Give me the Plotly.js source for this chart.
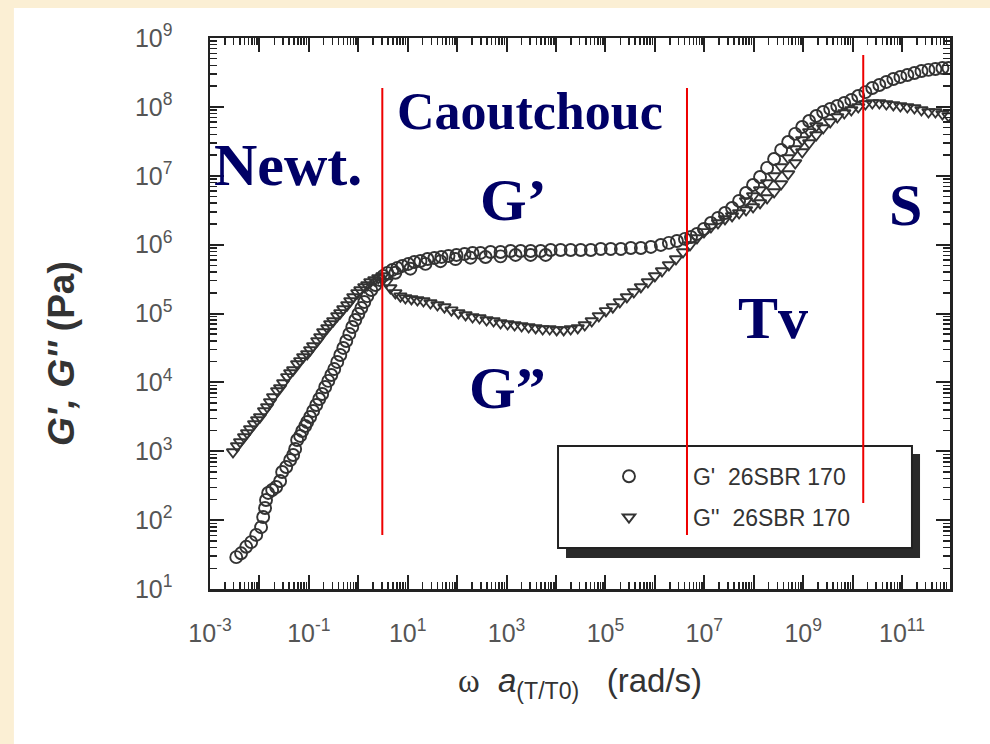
<!DOCTYPE html>
<html>
<head>
<meta charset="utf-8">
<script src="https://cdn.plot.ly/plotly-3.0.1.min.js"></script>
<style>
html,body{margin:0;padding:0;background:#FBEFD4;}
#chart{width:990px;height:744px;}
</style>
</head>
<body>
<div id="chart"></div>
<script>
// ---- Storage modulus G' (circles): reduced frequency (rad/s) and modulus (Pa)
const storageOmega = [
  3.4e-3, 4.25e-3, 5.4e-3, 6.8e-3, 8.6e-3, 1.08e-2, 1.19e-2, 1.30e-2, 1.36e-2, 1.50e-2,
  1.81e-2, 2.18e-2, 2.62e-2, 2.88e-2, 3.48e-2, 4.19e-2, 4.81e-2, 5.28e-2, 5.79e-2, 6.67e-2,
  7.33e-2, 8.43e-2, 9.25e-2, 0.106, 0.122, 0.141, 0.162, 0.186, 0.214, 0.247,
  0.284, 0.326, 0.375, 0.432, 0.497, 0.571, 0.658, 0.755, 0.869, 1.0,
  1.15, 1.32, 1.52, 1.83, 2.21, 2.67, 3.21,
  3.87, 4.89, 6.17, 7.80, 10.3, 13.6, 18.1, 25.1, 34.7, 48.1, 66.7, 96.8, 141, 205, 297, 474, 755,
  1205, 1923, 3062, 4887, 7798, 1.24e4, 1.98e4, 3.16e4, 5.05e4, 8.04e4, 1.28e5, 2.05e5, 3.26e5,
  5.20e5, 8.30e5, 1.32e6, 1.92e6, 2.79e6, 4.06e6, 5.37e6,
  7.10e6, 9.84e6, 1.36e7, 1.89e7, 2.62e7, 3.64e7, 5.05e7, 6.98e7, 9.68e7, 1.34e8, 1.86e8, 2.58e8,
  3.58e8, 4.97e8, 6.89e8, 9.55e8, 1.32e9, 1.84e9, 2.54e9, 3.52e9, 4.89e9, 6.78e9, 9.40e9, 1.30e10,
  1.81e10, 2.50e10, 3.47e10, 4.81e10, 6.67e10, 9.25e10, 1.28e11, 1.78e11, 2.47e11, 3.42e11, 4.73e11,
  6.56e11, 8.69e11,
  5.62, 11.3, 22.8, 45.9, 92.5, 186, 375, 755, 1520, 3060, 6170
];
const storageModulus = [
  29, 33, 41, 48, 61, 79, 111, 150, 196, 248,
  274, 303, 370, 500, 590, 746, 883, 1080, 1456, 1667,
  1968, 2328, 2661, 3141, 3846, 4699, 5741, 6776, 8570, 1.05e4,
  1.28e4, 1.56e4, 1.98e4, 2.50e4, 3.16e4, 3.99e4, 5.05e4, 6.37e4, 8.05e4, 9.84e4,
  1.20e5, 1.47e5, 1.79e5, 2.19e5, 2.59e5, 3.07e5, 3.51e5,
  3.87e5, 4.29e5, 4.58e5, 4.90e5, 5.24e5, 5.60e5, 5.79e5, 6.19e5, 6.40e5, 6.62e5, 6.84e5, 7.08e5, 7.31e5, 7.57e5, 7.57e5, 7.82e5, 7.82e5,
  8.09e5, 8.09e5, 8.09e5, 8.09e5, 8.36e5, 8.36e5, 8.36e5, 8.36e5, 8.36e5, 8.65e5, 8.65e5, 8.65e5, 8.93e5,
  8.93e5, 9.25e5, 9.89e5, 1.06e6, 1.13e6, 1.21e6, 1.29e6,
  1.43e6, 1.69e6, 2.06e6, 2.44e6, 2.88e6, 3.40e6, 4.31e6, 5.62e6, 7.35e6, 9.59e6, 1.30e7, 1.75e7,
  2.37e7, 3.09e7, 4.05e7, 5.11e7, 6.24e7, 7.38e7, 8.43e7, 9.33e7, 1.03e8, 1.14e8, 1.26e8, 1.44e8,
  1.64e8, 1.88e8, 2.08e8, 2.30e8, 2.54e8, 2.72e8, 2.90e8, 3.10e8, 3.32e8, 3.44e8, 3.55e8,
  3.67e8, 3.67e8,
  3.90e5, 4.47e5, 5.25e5, 5.75e5, 6.17e5, 6.46e5, 6.61e5, 6.76e5, 7.08e5, 7.08e5, 7.08e5
];

// ---- Loss modulus G'' (triangles)
const lossOmega = [
  2.92e-3, 3.52e-3, 4.06e-3, 4.89e-3, 5.62e-3, 6.47e-3, 7.80e-3, 8.98e-3, 1.03e-2, 1.24e-2,
  1.43e-2, 1.64e-2, 1.89e-2, 2.28e-2, 2.62e-2, 3.02e-2, 3.64e-2, 4.19e-2, 4.81e-2, 5.79e-2,
  6.67e-2, 7.67e-2, 9.25e-2, 0.106, 0.122, 0.148, 0.170, 0.195, 0.236, 0.270,
  0.311, 0.375, 0.432, 0.497, 0.598, 0.689, 0.792, 0.955, 1.10, 1.32,
  1.52, 1.75, 2.11, 2.54, 3.07,
  3.70, 4.46, 5.62, 7.10, 8.97, 11.9, 15.7, 20.8, 28.8, 39.9, 55.3, 76.7, 106, 148, 205, 284, 394, 545,
  755, 1047, 1452, 2014, 2793, 3873, 5370, 7447, 1.03e4, 1.43e4, 1.98e4, 2.75e4, 3.81e4, 5.28e4, 7.33e4,
  1.02e5, 1.41e5, 1.95e5, 2.71e5, 3.75e5, 5.20e5, 7.21e5, 1.00e6, 1.39e6, 1.92e6, 2.67e6, 3.70e6, 5.13e6,
  7.10e6, 9.84e6, 1.36e7, 1.89e7, 2.62e7, 3.64e7, 5.05e7, 6.98e7, 9.68e7, 1.34e8, 1.86e8, 2.58e8,
  3.58e8, 4.97e8, 6.89e8, 9.55e8, 1.32e9, 1.84e9, 2.54e9, 3.52e9, 4.89e9, 6.78e9, 9.40e9, 1.30e10,
  1.81e10, 2.50e10, 3.47e10, 4.81e10, 6.67e10, 9.25e10, 1.28e11, 1.78e11, 2.47e11, 3.42e11, 4.73e11,
  6.56e11, 8.69e11,
  6.98e7, 9.68e7, 1.34e8, 1.86e8, 2.58e8, 3.58e8, 4.97e8, 6.89e8, 9.55e8, 1.32e9, 1.84e9
];
const lossModulus = [
  975, 1191, 1361, 1611, 1841, 2104, 2489, 2844, 3141, 3846,
  4395, 5188, 6138, 7499, 8299, 9795, 1.20e4, 1.37e4, 1.51e4, 1.85e4,
  2.05e4, 2.34e4, 2.58e4, 2.95e4, 3.37e4, 3.99e4, 4.56e4, 5.40e4, 6.17e4, 7.05e4,
  7.78e4, 9.20e4, 1.02e5, 1.16e5, 1.33e5, 1.52e5, 1.74e5, 1.99e5, 2.19e5, 2.43e5,
  2.59e5, 2.87e5, 3.07e5, 3.28e5, 3.51e5,
  2.87e5, 2.35e5, 1.99e5, 1.79e5, 1.68e5, 1.63e5, 1.57e5, 1.52e5, 1.42e5, 1.33e5, 1.24e5, 1.12e5, 1.02e5, 9.53e4, 8.89e4, 8.61e4, 8.05e4, 7.78e4,
  7.28e4, 7.05e4, 6.81e4, 6.59e4, 6.37e4, 6.17e4, 5.96e4, 5.96e4, 5.77e4, 5.77e4, 5.96e4, 6.17e4, 6.81e4, 7.78e4, 9.20e4,
  1.09e5, 1.24e5, 1.47e5, 1.74e5, 2.05e5, 2.43e5, 2.87e5, 3.51e5, 4.14e5, 5.06e5, 6.19e5, 7.82e5, 9.89e5,
  1.25e6, 1.53e6, 1.80e6, 2.06e6, 2.36e6, 2.61e6, 2.88e6, 3.18e6, 3.52e6, 4.03e6, 4.75e6, 5.81e6,
  7.60e6, 1.06e7, 1.53e7, 2.21e7, 2.99e7, 3.91e7, 4.94e7, 6.04e7, 7.13e7, 8.15e7, 9.02e7, 9.95e7,
  1.10e8, 1.14e8, 1.14e8, 1.10e8, 1.07e8, 1.03e8, 9.95e7, 9.64e7, 9.02e7, 8.43e7, 8.43e7,
  7.89e7, 7.38e7,
  4.31e6, 5.08e6, 6.21e6, 7.85e6, 9.93e6, 1.34e7, 1.81e7, 2.45e7, 3.31e7, 4.33e7, 5.28e7
];

// ---- Region boundaries (red lines) and region labels
const boundaryOmega = [3.06, 4.46e6, 1.64e10];
const boundaryTop = [1.88e8, 1.88e8, 5.68e8];
const boundaryBottom = [60.8, 60.8, 177];
const regionLabels = ['Newt.', 'Caoutchouc', 'G\u2019', 'G\u201D', 'Tv', 'S'];

// ---- Tick labels and titles
const xTickVals = [1e-3, 1e-2, 1e-1, 1e0, 1e1, 1e2, 1e3, 1e4, 1e5, 1e6, 1e7, 1e8, 1e9, 1e10, 1e11];
const xTickText = ['10<sup>-3</sup>', '', '10<sup>-1</sup>', '', '10<sup>1</sup>', '', '10<sup>3</sup>', '',
                   '10<sup>5</sup>', '', '10<sup>7</sup>', '', '10<sup>9</sup>', '', '10<sup>11</sup>'];
const yTickVals = [1e1, 1e2, 1e3, 1e4, 1e5, 1e6, 1e7, 1e8, 1e9];
const yTickText = ['10<sup>1</sup>', '10<sup>2</sup>', '10<sup>3</sup>', '10<sup>4</sup>', '10<sup>5</sup>',
                   '10<sup>6</sup>', '10<sup>7</sup>', '10<sup>8</sup>', '10<sup>9</sup>'];
const legendNames = ["G'\u00A0\u00A026SBR 170", "G''\u00A0\u00A026SBR 170"];
const yTitle = "<b><i>G', G''</i> (Pa)</b>";

// minor tick positions (2..9 in each decade)
function minorTicks(lo, hi) {
  const out = [];
  for (let k = lo; k <= hi; k++) for (let m = 2; m <= 9; m++) out.push(m * Math.pow(10, k));
  return out;
}

const bx = [], by = [];
boundaryOmega.forEach((w, i) => { bx.push(w, w, null); by.push(boundaryBottom[i], boundaryTop[i], null); });

const ink = '#333333';
const traces = [
  {
    x: storageOmega, y: storageModulus, name: legendNames[0], type: 'scatter', mode: 'markers',
    legendgroup: 'a',
    marker: {symbol: 'circle-open', size: 12, color: ink, line: {width: 1.9}}
  },
  {
    x: lossOmega, y: lossModulus, name: legendNames[1], type: 'scatter', mode: 'markers',
    legendgroup: 'b',
    marker: {symbol: 'triangle-down-open', size: 11, color: ink, line: {width: 1.9}}
  },
  {
    x: bx, y: by, type: 'scatter', mode: 'lines', showlegend: false, hoverinfo: 'skip',
    line: {color: '#ee0000', width: 2}
  }
];

const tickFont = {family: 'Liberation Sans, Arial, sans-serif', size: 25, color: '#555'};
const axisCommon = {
  type: 'log', showgrid: false, zeroline: false, automargin: false,
  showline: true, linecolor: '#222', linewidth: 2.5, mirror: 'ticks',
  ticks: 'inside', ticklen: 14, tickwidth: 2, tickcolor: '#222',
  tickmode: 'array', tickfont: tickFont
};

const serif = {family: 'Liberation Serif, Times New Roman, serif', color: '#000066'};
function label(text, x, y, size) {
  return {text: '<b>' + text + '</b>', xref: 'paper', yref: 'paper', x: x, y: y,
          xanchor: 'center', yanchor: 'middle', showarrow: false,
          font: Object.assign({size: size}, serif)};
}

const NB = '\u00A0';
const layout = {
  width: 990, height: 744,
  margin: {l: 210, r: 40, t: 38, b: 155, pad: 0},
  paper_bgcolor: '#FBEFD4',
  plot_bgcolor: 'rgba(0,0,0,0)',
  showlegend: true,
  xaxis: Object.assign({}, axisCommon, {
    range: [-3, 11.97],
    tickvals: xTickVals, ticktext: xTickText,
    ticklabelstandoff: 20,
    minor: {tickmode: 'array', tickvals: minorTicks(-3, 11), ticks: 'inside', ticklen: 7, tickwidth: 1.5, tickcolor: '#222', showgrid: false},
    title: {
      text: '<span style="font-family:Liberation Serif">\u03C9</span>' + NB + NB + '<i>a</i><sub>(T/T0)</sub>' + NB + NB + NB + '(rad/s)',
      font: {family: 'Liberation Sans, Arial, sans-serif', size: 33, color: '#333'},
      standoff: 24
    }
  }),
  yaxis: Object.assign({}, axisCommon, {
    range: [1, 9],
    tickvals: yTickVals, ticktext: yTickText,
    ticklabelstandoff: 30,
    minor: {tickmode: 'array', tickvals: minorTicks(1, 8), ticks: 'inside', ticklen: 7, tickwidth: 1.5, tickcolor: '#222', showgrid: false}
  }),
  legend: {
    x: 0.4797, y: 0.2435, xanchor: 'left', yanchor: 'top',
    bgcolor: 'rgba(0,0,0,0)', borderwidth: 0,
    itemwidth: 118, tracegroupgap: 8,
    font: {family: 'Liberation Sans, Arial, sans-serif', size: 23, color: '#333'}
  },
  shapes: [
    {type: 'rect', xref: 'paper', yref: 'paper', x0: -0.265, x1: 1.1, y0: -0.4, y1: 1.0544,
     fillcolor: '#ffffff', line: {width: 0}, layer: 'below'},
    {type: 'rect', xref: 'paper', yref: 'paper', x0: 0.4811, x1: 0.9595, y0: 0.0563, y1: 0.2450,
     fillcolor: '#2a2a2a', line: {width: 0}, layer: 'below'},
    {type: 'rect', xref: 'paper', yref: 'paper', x0: 0.4703, x1: 0.9486, y0: 0.0744, y1: 0.2595,
     fillcolor: '#ffffff', line: {color: '#222', width: 2}, layer: 'below'}
  ],
  annotations: [
    label(regionLabels[0], 0.1054, 0.7695, 60),
    label(regionLabels[1], 0.4324, 0.8657, 52),
    label(regionLabels[2], 0.4095, 0.7060, 60),
    label(regionLabels[3], 0.4014, 0.3648, 60),
    label(regionLabels[4], 0.7608, 0.4918, 60),
    label(regionLabels[5], 0.9392, 0.6969, 60),
    {text: yTitle, xref: 'paper', yref: 'paper', x: -0.2014, y: 0.4283, textangle: -90,
     xanchor: 'center', yanchor: 'middle', showarrow: false,
     font: {family: 'Liberation Sans, Arial, sans-serif', size: 37, color: '#333'}}
  ]
};

Plotly.newPlot('chart', traces, layout, {displayModeBar: false, staticPlot: true});
</script>
</body>
</html>
